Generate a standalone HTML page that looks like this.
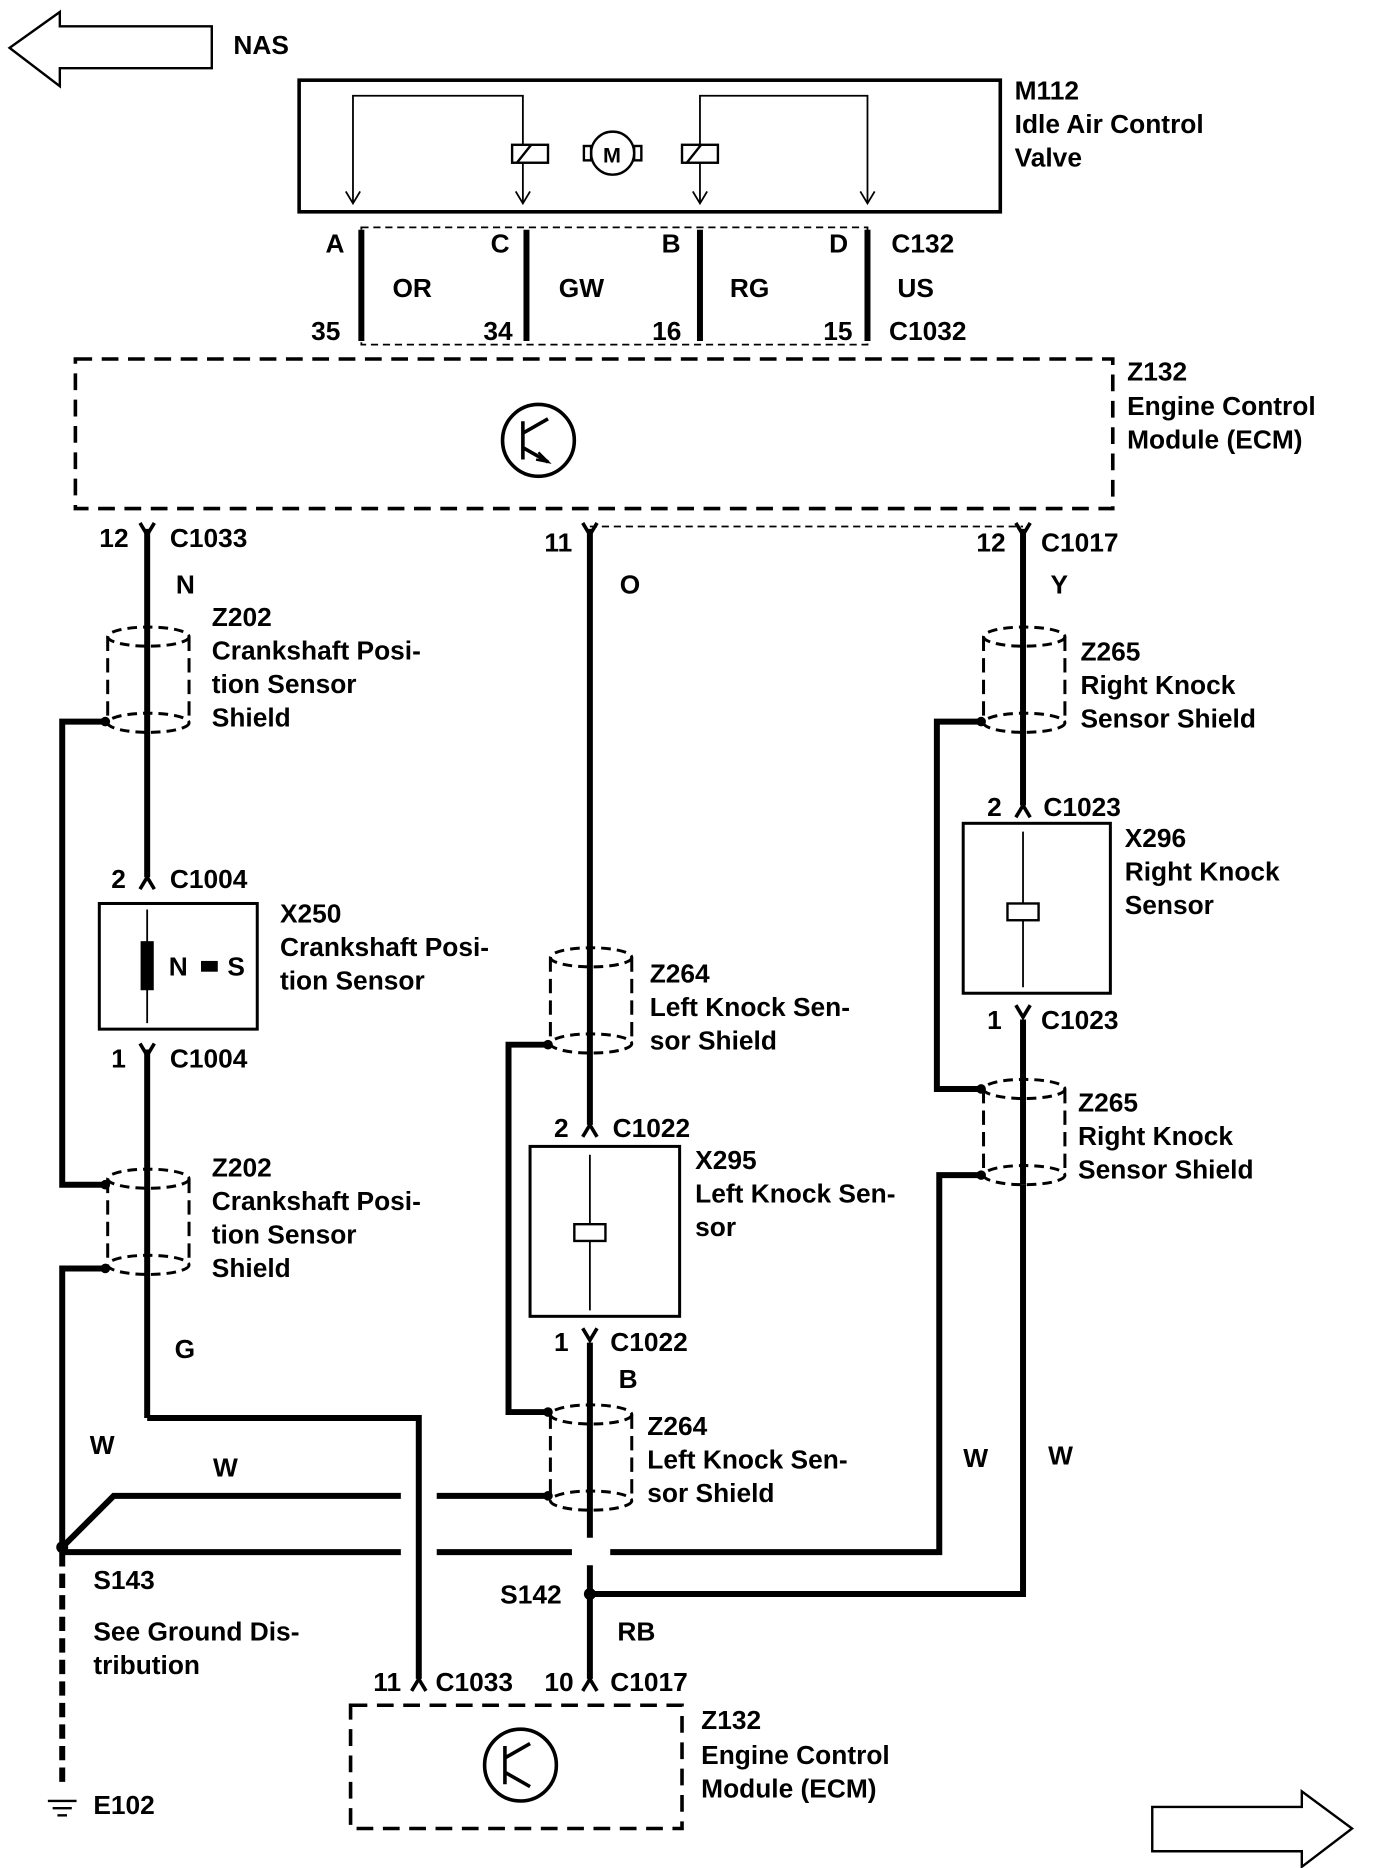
<!DOCTYPE html>
<html><head><meta charset="utf-8"><style>
html,body{margin:0;padding:0;background:#fff;}
svg{display:block;}
text{font-family:"Liberation Sans",sans-serif;font-weight:bold;font-size:22px;fill:#000;}
</style></head><body>
<svg width="1376" height="1868" viewBox="0 0 1150 1561" preserveAspectRatio="none" xmlns="http://www.w3.org/2000/svg">
<defs>
<g id="cyl" fill="none" stroke="#000" stroke-width="2.5">
 <ellipse cx="0" cy="0" rx="34" ry="8" stroke-dasharray="8,5"/>
 <line x1="-34" y1="0" x2="-34" y2="72" stroke-dasharray="12,6"/>
 <line x1="34" y1="0" x2="34" y2="72" stroke-dasharray="12,6"/>
 <ellipse cx="0" cy="72" rx="34" ry="8" stroke-dasharray="8,5"/>
</g>
<g id="pinU"><path d="M-6,8 L0,-2 L6,8" fill="none" stroke="#000" stroke-width="3"/></g>
<g id="pinD"><path d="M-6,-8 L0,2 L6,-8" fill="none" stroke="#000" stroke-width="3"/></g>
</defs>
<g fill="none" stroke="#000">
<path d="M8,40 L50,10 L50,22 L177,22 L177,57 L50,57 L50,72 Z" stroke-width="2"/>
<path d="M963,1510 L1088,1510 L1088,1497 L1130,1528 L1088,1560 L1088,1547 L963,1547 Z" stroke-width="2"/>
<rect x="250" y="67" width="586" height="110" stroke-width="3"/>
<g stroke-width="1.5">
<path d="M295,170 L295,80 L437,80 L437,170"/>
<path d="M585,170 L585,80 L725,80 L725,170"/>
<path d="M289,160 L295,170 L301,160 M431,160 L437,170 L443,160 M579,160 L585,170 L591,160 M719,160 L725,170 L731,160"/>
</g>
<rect x="428" y="121" width="30" height="15" stroke-width="2" fill="#fff"/>
<line x1="432" y1="136" x2="444" y2="121" stroke-width="2"/>
<rect x="570" y="121" width="30" height="15" stroke-width="2" fill="#fff"/>
<line x1="574" y1="136" x2="586" y2="121" stroke-width="2"/>
<circle cx="512" cy="128" r="18" stroke-width="2"/>
<rect x="488" y="122" width="6" height="12" stroke-width="2"/>
<rect x="530" y="122" width="6" height="12" stroke-width="2"/>
<rect x="302" y="190" width="423" height="98" stroke-width="1.5" stroke-dasharray="6,4"/>
<g stroke-width="5">
<line x1="302" y1="192" x2="302" y2="285"/><line x1="440" y1="192" x2="440" y2="285"/>
<line x1="585" y1="192" x2="585" y2="285"/><line x1="725" y1="192" x2="725" y2="285"/>
</g>
<rect x="63" y="300" width="867" height="125" stroke-width="3" stroke-dasharray="14,8"/>
<circle cx="450" cy="368" r="30" stroke-width="3"/>
<path d="M437,352 L437,384 M437,362 L458,350 M437,374 L458,386" stroke-width="3"/>
<path d="M450,378 L458,386 L448,384" stroke-width="2"/>
<line x1="493" y1="440" x2="855" y2="440" stroke-width="1.5" stroke-dasharray="6,4"/>
<g stroke-width="5">
<line x1="123" y1="442" x2="123" y2="733"/>
<line x1="123" y1="877" x2="123" y2="1185"/>
<polyline points="123,1185 350,1185 350,1403"/>
<polyline points="88,603 52,603 52,990 88,990"/>
<polyline points="88,1060 52,1060 52,1293"/>
<line x1="493" y1="442" x2="493" y2="940"/>
<line x1="493" y1="1122" x2="493" y2="1285"/>
<line x1="493" y1="1308" x2="493" y2="1403"/>
<polyline points="458,873 425,873 425,1180 458,1180"/>
<line x1="855" y1="442" x2="855" y2="673"/>
<line x1="855" y1="852" x2="855" y2="990"/>
<polyline points="820,603 783,603 783,910 820,910"/>
<polyline points="820,982 785,982 785,1297 510,1297"/>
<polyline points="855,990 855,1332 493,1332"/>
<polyline points="52,1293 95,1250 335,1250"/>
<line x1="365" y1="1250" x2="458" y2="1250"/>
<line x1="52" y1="1297" x2="335" y2="1297"/>
<line x1="365" y1="1297" x2="478" y2="1297"/>
<line x1="52" y1="1297" x2="52" y2="1495" stroke-dasharray="12,6"/>
</g>
<g stroke-width="2"><line x1="40" y1="1505" x2="64" y2="1505"/><line x1="44" y1="1511" x2="60" y2="1511"/><line x1="48" y1="1517" x2="56" y2="1517"/></g>
<use href="#cyl" x="124" y="532"/>
<use href="#cyl" x="124" y="985"/>
<use href="#cyl" x="494" y="800"/>
<use href="#cyl" x="494" y="1182"/>
<use href="#cyl" x="856" y="532"/>
<use href="#cyl" x="856" y="910"/>
<rect x="83" y="755" width="132" height="105" stroke-width="2.5"/>
<line x1="123" y1="760" x2="123" y2="855" stroke-width="1.5"/>
<rect x="118" y="787" width="10" height="40" fill="#000"/>
<rect x="443" y="958" width="125" height="142" stroke-width="2.5"/>
<line x1="493" y1="965" x2="493" y2="1095" stroke-width="1.5"/>
<rect x="480" y="1023" width="26" height="14" stroke-width="2" fill="#fff"/>
<rect x="805" y="688" width="123" height="142" stroke-width="2.5"/>
<line x1="855" y1="695" x2="855" y2="825" stroke-width="1.5"/>
<rect x="842" y="755" width="26" height="14" stroke-width="2" fill="#fff"/>
<rect x="293" y="1425" width="277" height="103" stroke-width="3" stroke-dasharray="14,8"/>
<circle cx="435" cy="1475" r="30" stroke-width="3"/>
<path d="M422,1459 L422,1491 M422,1469 L443,1457 M422,1481 L443,1493" stroke-width="3"/>
</g>
<g fill="#000">
<circle cx="52" cy="1293" r="5"/><circle cx="493" cy="1332" r="5"/>
<circle cx="88" cy="603" r="4"/><circle cx="88" cy="990" r="4"/><circle cx="88" cy="1060" r="4"/>
<circle cx="458" cy="873" r="4"/><circle cx="458" cy="1180" r="4"/><circle cx="458" cy="1250" r="4"/>
<circle cx="820" cy="603" r="4"/><circle cx="820" cy="910" r="4"/><circle cx="820" cy="982" r="4"/>
</g>
<use href="#pinD" x="123" y="445"/><use href="#pinD" x="493" y="445"/><use href="#pinD" x="855" y="445"/>
<use href="#pinU" x="123" y="735"/><use href="#pinD" x="123" y="880"/>
<use href="#pinU" x="493" y="942"/><use href="#pinD" x="493" y="1118"/>
<use href="#pinU" x="855" y="675"/><use href="#pinD" x="855" y="848"/>
<use href="#pinU" x="350" y="1405"/><use href="#pinU" x="493" y="1405"/>
<text x="504" y="136" style="font-size:18px">M</text>
<text x="195" y="45">NAS</text>
<text x="848" y="83">M112</text><text x="848" y="111">Idle Air Control</text><text x="848" y="139">Valve</text>
<text x="272" y="211">A</text><text x="410" y="211">C</text><text x="553" y="211">B</text><text x="693" y="211">D</text><text x="745" y="211">C132</text>
<text x="328" y="248">OR</text><text x="467" y="248">GW</text><text x="610" y="248">RG</text><text x="750" y="248">US</text>
<text x="260" y="284">35</text><text x="404" y="284">34</text><text x="545" y="284">16</text><text x="688" y="284">15</text><text x="743" y="284">C1032</text>
<text x="942" y="318">Z132</text><text x="942" y="347">Engine Control</text><text x="942" y="375">Module (ECM)</text>
<text x="83" y="457">12</text><text x="142" y="457">C1033</text>
<text x="455" y="461">11</text>
<text x="816" y="461">12</text><text x="870" y="461">C1017</text>
<text x="147" y="496">N</text><text x="518" y="496">O</text><text x="878" y="496">Y</text>
<text x="177" y="523">Z202</text><text x="177" y="551">Crankshaft Posi-</text><text x="177" y="579">tion Sensor</text><text x="177" y="607">Shield</text>
<text x="903" y="552">Z265</text><text x="903" y="580">Right Knock</text><text x="903" y="608">Sensor Shield</text>
<text x="825" y="682">2</text><text x="872" y="682">C1023</text>
<text x="940" y="708">X296</text><text x="940" y="736">Right Knock</text><text x="940" y="764">Sensor</text>
<text x="93" y="742">2</text><text x="142" y="742">C1004</text>
<text x="234" y="771">X250</text><text x="234" y="799">Crankshaft Posi-</text><text x="234" y="827">tion Sensor</text>
<text x="141" y="815">N</text><text x="190" y="815">S</text>
<rect x="168" y="803" width="14" height="9" fill="#000"/>
<text x="543" y="821">Z264</text><text x="543" y="849">Left Knock Sen-</text><text x="543" y="877">sor Shield</text>
<text x="825" y="860">1</text><text x="870" y="860">C1023</text>
<text x="93" y="892">1</text><text x="142" y="892">C1004</text>
<text x="901" y="929">Z265</text><text x="901" y="957">Right Knock</text><text x="901" y="985">Sensor Shield</text>
<text x="463" y="950">2</text><text x="512" y="950">C1022</text>
<text x="581" y="977">X295</text><text x="581" y="1005">Left Knock Sen-</text><text x="581" y="1033">sor</text>
<text x="177" y="983">Z202</text><text x="177" y="1011">Crankshaft Posi-</text><text x="177" y="1039">tion Sensor</text><text x="177" y="1067">Shield</text>
<text x="463" y="1129">1</text><text x="510" y="1129">C1022</text>
<text x="146" y="1135">G</text><text x="517" y="1160">B</text>
<text x="541" y="1199">Z264</text><text x="541" y="1227">Left Knock Sen-</text><text x="541" y="1255">sor Shield</text>
<text x="75" y="1215">W</text><text x="178" y="1234">W</text><text x="805" y="1226">W</text><text x="876" y="1224">W</text>
<text x="78" y="1328">S143</text><text x="418" y="1340">S142</text>
<text x="78" y="1371">See Ground Dis-</text><text x="78" y="1399">tribution</text>
<text x="516" y="1371">RB</text>
<text x="312" y="1413">11</text><text x="364" y="1413">C1033</text>
<text x="455" y="1413">10</text><text x="510" y="1413">C1017</text>
<text x="586" y="1445">Z132</text><text x="586" y="1474">Engine Control</text><text x="586" y="1502">Module (ECM)</text>
<text x="78" y="1516">E102</text>
</svg>
</body></html>
